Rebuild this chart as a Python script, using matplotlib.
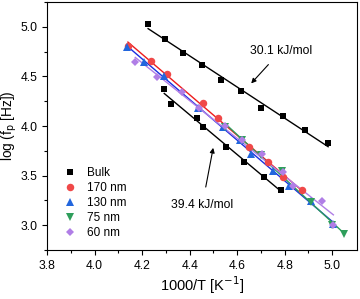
import numpy as np
import matplotlib
matplotlib.use("Agg")
import matplotlib.pyplot as plt

# data (x = 1000/T, y = log fp)
bulk_hi_x = [4.225, 4.297, 4.373, 4.453, 4.533, 4.617, 4.700, 4.794, 4.886, 4.983]
bulk_hi_y = [5.03, 4.88, 4.74, 4.62, 4.46, 4.35, 4.18, 4.10, 3.96, 3.83]
bulk_lo_x = [4.293, 4.322, 4.432, 4.457, 4.554, 4.629, 4.714, 4.785]
bulk_lo_y = [4.37, 4.22, 4.08, 3.99, 3.79, 3.64, 3.49, 3.35]
nm170_x = [4.14, 4.238, 4.305, 4.457, 4.52, 4.65, 4.73, 4.794, 4.874]
nm170_y = [4.81, 4.66, 4.52, 4.23, 4.08, 3.79, 3.64, 3.49, 3.35]
nm130_x = [4.137, 4.208, 4.293, 4.436, 4.540, 4.613, 4.660, 4.750, 4.820, 4.910, 5.004]
nm130_y = [4.80, 4.65, 4.50, 4.18, 3.99, 3.86, 3.72, 3.55, 3.40, 3.24, 3.01]
nm75_x = [4.55, 4.62, 4.70, 4.79, 4.91, 5.00, 5.05]
nm75_y = [3.99, 3.86, 3.71, 3.55, 3.23, 3.00, 2.91]
nm60_x = [4.171, 4.263, 4.368, 4.44, 4.549, 4.62, 4.705, 4.794, 4.836, 4.958, 5.005]
nm60_y = [4.65, 4.49, 4.34, 4.18, 4.00, 3.86, 3.72, 3.54, 3.40, 3.24, 3.00]

plt.rcParams['font.family'] = ['Liberation Sans', 'DejaVu Sans']

fig = plt.figure(figsize=(3.6, 2.99), dpi=100)
ax = fig.add_axes([0.131, 0.164, 0.861, 0.829])

def fit_line(x, y, color, lw=1.0):
    p = np.polyfit(x, y, 1)
    xs = np.array([min(x), max(x)])
    ax.plot(xs, np.polyval(p, xs), color=color, lw=lw, zorder=2)

# x, y, marker colour, marker, label, line colour, marker size
series = [
    (bulk_hi_x, bulk_hi_y, 'black', 's', None, 'black', 4.3),
    (bulk_lo_x, bulk_lo_y, 'black', 's', 'Bulk', 'black', 4.3),
    (nm170_x, nm170_y, '#f04848', 'o', '170 nm', '#ee1c1c', 5.4),
    (nm130_x, nm130_y, '#2266dd', '^', '130 nm', '#1a2ee0', 6.0),
    (nm75_x, nm75_y, '#2e9e5b', 'v', '75 nm', '#2e9e5b', 6.0),
    (nm60_x, nm60_y, '#b07ee6', 'D', '60 nm', '#b07ee6', 4.4),
]

for x, y, mc, mk, lab, lc, ms in series:
    fit_line(x, y, lc)
    ax.plot(x, y, ls='none', marker=mk, color=mc, ms=ms, mew=0, label=lab, zorder=3)

ax.annotate('30.1 kJ/mol', xy=(4.659, 4.43), xytext=(4.785, 4.76),
            ha='center', va='center', fontsize=8.7,
            arrowprops=dict(arrowstyle='-|>', color='black', lw=0.8,
                            mutation_scale=7, shrinkA=5, shrinkB=0))
ax.annotate('39.4 kJ/mol', xy=(4.499, 3.78), xytext=(4.453, 3.20),
            ha='center', va='center', fontsize=8.7,
            arrowprops=dict(arrowstyle='-|>', color='black', lw=0.8,
                            mutation_scale=7, shrinkA=7, shrinkB=0))

ax.set_xlim(3.8, 5.105)
ax.set_ylim(2.75, 5.25)
ax.set_xticks([3.8, 4.0, 4.2, 4.4, 4.6, 4.8, 5.0])
ax.set_xticks(np.arange(3.9, 5.1, 0.2), minor=True)
ax.set_yticks([3.0, 3.5, 4.0, 4.5, 5.0])
ax.set_yticks([2.75, 3.25, 3.75, 4.25, 4.75, 5.25], minor=True)
ax.tick_params(which='major', direction='out', length=3.5, width=0.8, labelsize=8.7)
ax.tick_params(which='minor', direction='out', length=2, width=0.8)
for s in ax.spines.values():
    s.set_linewidth(0.8)
ax.set_xlabel('1000/T [K$^{-1}$]', fontsize=10.5, labelpad=2)
ax.set_ylabel('log (f$_\\mathrm{p}$ [Hz])', fontsize=9.8)
ax.yaxis.set_label_coords(-0.09, 0.5)

ax.legend(loc='upper left', bbox_to_anchor=(0.055, 0.335), frameon=False,
          fontsize=8.5, handlelength=1.0, handletextpad=0.9, labelspacing=0.25,
          borderpad=0, borderaxespad=0)

fig.savefig('out.png', dpi=100)
